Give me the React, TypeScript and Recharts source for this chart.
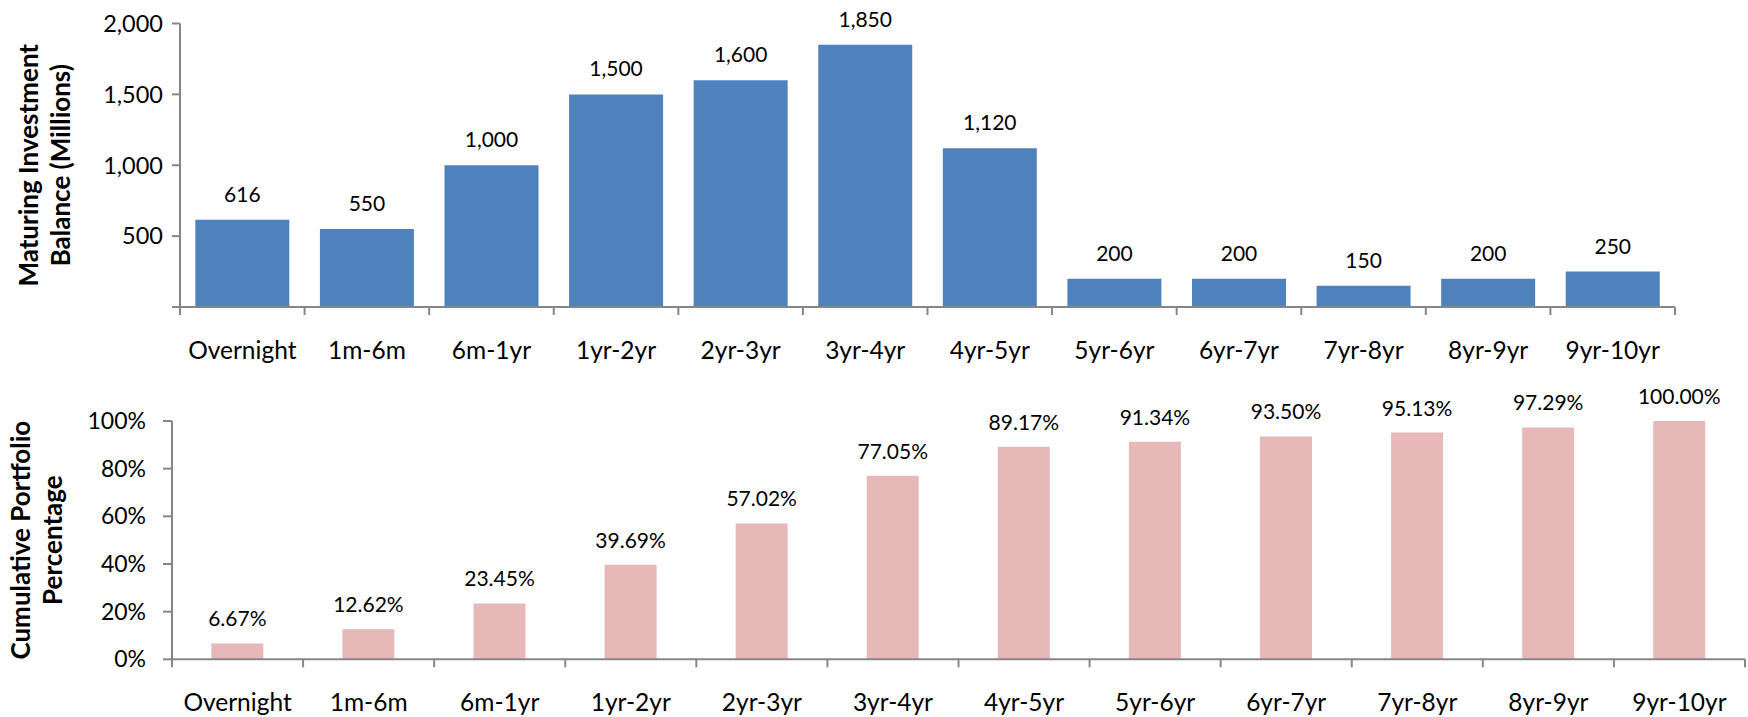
import { BarChart, Bar, XAxis, YAxis, LabelList, Label } from 'recharts'

const buckets = ['Overnight', '1m-6m', '6m-1yr', '1yr-2yr', '2yr-3yr', '3yr-4yr', '4yr-5yr', '5yr-6yr', '6yr-7yr', '7yr-8yr', '8yr-9yr', '9yr-10yr']
const maturingBalance = [616, 550, 1000, 1500, 1600, 1850, 1120, 200, 200, 150, 200, 250]
const cumulativePct = [6.67, 12.62, 23.45, 39.69, 57.02, 77.05, 89.17, 91.34, 93.5, 95.13, 97.29, 100.0]
const balanceTicks = [0, 500, 1000, 1500, 2000]
const pctTicks = [0, 20, 40, 60, 80, 100]

const balanceData = buckets.map((bucket, i) => ({ bucket, value: maturingBalance[i] }))
const pctData = buckets.map((bucket, i) => ({ bucket, value: cumulativePct[i] }))

const AXIS = '#868686'
const FONT = 'Lato, "Open Sans", sans-serif'
const W = 1748

// category label centred in its band, with tick marks on the band edges
function bucketTick(band: number, count: number) {
  return (props: any) => {
    const { x, y, payload, index } = props
    const left = x - band / 2
    const right = x + band / 2
    return (
      <g>
        <line x1={left} x2={left} y1={y} y2={y + 8} stroke={AXIS} strokeWidth={2} />
        {index === count - 1 && <line x1={right} x2={right} y1={y} y2={y + 8} stroke={AXIS} strokeWidth={2} />}
        <text x={x} y={y + 42} textAnchor="middle" dominantBaseline="central" fontSize={24.5} fill="#000">
          {payload.value}
        </text>
      </g>
    )
  }
}

function axisTitle(lines: string[], xs: number[]) {
  return (props: any) => {
    const { viewBox } = props
    const cy = viewBox.y + viewBox.height / 2
    return (
      <g>
        {lines.map((line, i) => (
          <text
            key={line}
            x={xs[i]}
            y={cy}
            transform={`rotate(-90, ${xs[i]}, ${cy})`}
            textAnchor="middle"
            dominantBaseline="central"
            fontSize={26}
            fontWeight="bold"
            fill="#000"
          >
            {line}
          </text>
        ))}
      </g>
    )
  }
}

export default function App() {
  const topBand = (1675 - 180) / buckets.length
  const bottomBand = (1745 - 172) / buckets.length
  return (
    <div style={{ position: 'absolute', left: 0, top: 0, width: W, height: 717, background: '#fff', fontFamily: FONT }}>
      <div style={{ position: 'absolute', left: 0, top: 0 }}>
        <BarChart width={W} height={370} data={balanceData} margin={{ top: 23.5, right: 73, bottom: 3, left: 0 }} barCategoryGap="12.3%">
          <XAxis
            dataKey="bucket"
            height={60}
            interval={0}
            tickLine={false}
            tickSize={0}
            tickMargin={0}
            axisLine={{ stroke: AXIS, strokeWidth: 2 }}
            tick={bucketTick(topBand, buckets.length)}
          />
          <YAxis
            width={180}
            domain={[0, 2000]}
            ticks={balanceTicks}
            interval={0}
            tickSize={8}
            tickMargin={9}
            axisLine={{ stroke: AXIS, strokeWidth: 2 }}
            tickLine={{ stroke: AXIS, strokeWidth: 2 }}
            tick={{ fontSize: 23.5, fill: '#000' }}
            tickFormatter={(v: number) => (v === 0 ? '' : v.toLocaleString('en-US'))}
          >
            <Label content={axisTitle(['Maturing Investment', 'Balance (Millions)'], [28, 60])} />
          </YAxis>
          <Bar dataKey="value" fill="#4F81BD" isAnimationActive={false}>
            <LabelList
              dataKey="value"
              position="top"
              offset={18}
              fontSize={21}
              fill="#000"
              formatter={(v: any) => Number(v).toLocaleString('en-US')}
            />
          </Bar>
        </BarChart>
      </div>
      <div style={{ position: 'absolute', left: 0, top: 370 }}>
        <BarChart width={W} height={347} data={pctData} margin={{ top: 51, right: 3, bottom: 2.7, left: 0 }} barCategoryGap="30%">
          <XAxis
            dataKey="bucket"
            height={55}
            interval={0}
            tickLine={false}
            tickSize={0}
            tickMargin={0}
            axisLine={{ stroke: AXIS, strokeWidth: 2 }}
            tick={bucketTick(bottomBand, buckets.length)}
          />
          <YAxis
            width={172}
            domain={[0, 100]}
            ticks={pctTicks}
            interval={0}
            tickSize={9}
            tickMargin={17}
            axisLine={{ stroke: AXIS, strokeWidth: 2 }}
            tickLine={{ stroke: AXIS, strokeWidth: 2 }}
            tick={{ fontSize: 23, fill: '#000' }}
            tickFormatter={(v: number) => `${v}%`}
          >
            <Label content={axisTitle(['Cumulative Portfolio', 'Percentage'], [20, 52])} />
          </YAxis>
          <Bar dataKey="value" fill="#E6B9B8" isAnimationActive={false}>
            <LabelList
              dataKey="value"
              position="top"
              offset={17}
              fontSize={21}
              fill="#000"
              formatter={(v: any) => `${Number(v).toFixed(2)}%`}
            />
          </Bar>
        </BarChart>
      </div>
    </div>
  )
}
